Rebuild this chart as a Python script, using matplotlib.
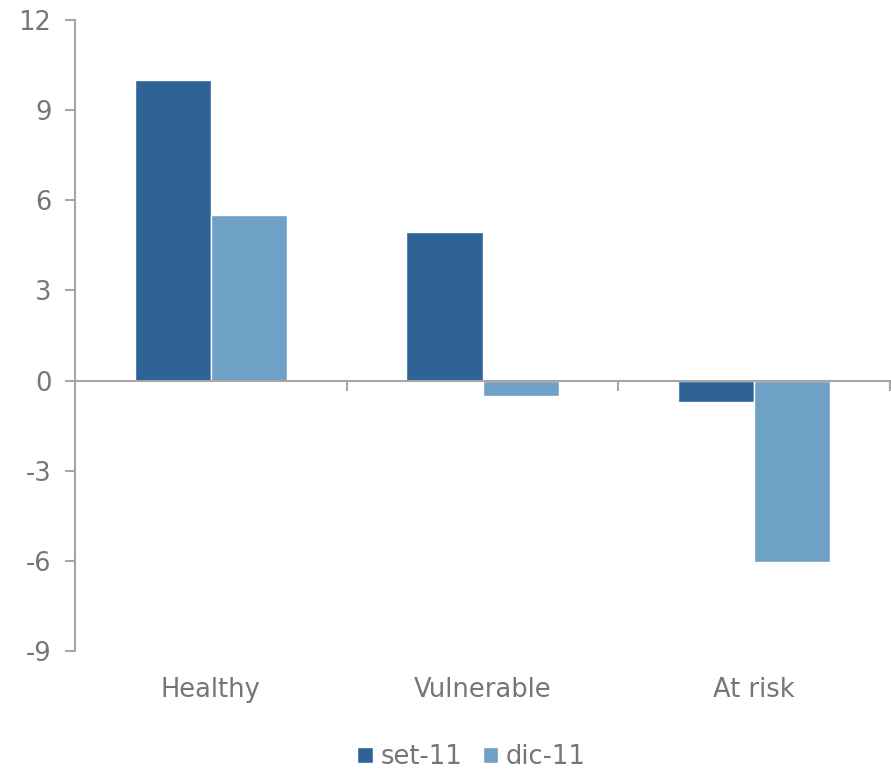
import numpy as np
import matplotlib
matplotlib.use('Agg')
from matplotlib import pyplot as plt
from matplotlib.transforms import blended_transform_factory

plt.rcParams['axes.unicode_minus'] = False

categories = ['Healthy', 'Vulnerable', 'At risk']
set11 = [10.0, 4.95, -0.7]
dic11 = [5.5, -0.5, -6.05]
series_names = ['set-11', 'dic-11']

dark = '#2f6296'
light = '#6fa1c6'
grey_txt = '#767676'
grey_ax = '#a6a6a6'

fig = plt.figure(figsize=(8.91, 7.73), dpi=100)
ax = fig.add_axes([75/891, 1-651/773, 815/891, 631/773])

x = np.arange(len(categories))
w = 0.28
ax.bar(x - w/2, set11, w, color=dark, edgecolor='white', linewidth=1, label=series_names[0])
ax.bar(x + w/2, dic11, w, color=light, edgecolor='white', linewidth=1, label=series_names[1])

ax.set_xlim(-0.5, 2.5)
ax.set_ylim(-9, 12)
ax.set_yticks(np.arange(-9, 13, 3))

for s in ['top', 'right']:
    ax.spines[s].set_visible(False)
ax.spines['left'].set_color(grey_ax)
ax.spines['left'].set_linewidth(1.5)
ax.spines['bottom'].set_position(('data', 0))
ax.spines['bottom'].set_color(grey_ax)
ax.spines['bottom'].set_linewidth(1.5)

# tick marks between categories on the zero line
ax.set_xticks([0.5, 1.5, 2.5])
ax.set_xticklabels([])
ax.tick_params(axis='x', direction='out', length=7, width=1.5, color=grey_ax)
ax.tick_params(axis='y', direction='out', length=7, width=1.5, color=grey_ax,
               labelsize=18.5, labelcolor=grey_txt, pad=10)

trans = blended_transform_factory(ax.transData, ax.transAxes)
for xi, name in zip(x, categories):
    ax.text(xi, -0.062, name, transform=trans, ha='center', va='center',
            fontsize=18.5, color=grey_txt)

handles, labels = ax.get_legend_handles_labels()
fig.legend(handles, labels, loc='center', bbox_to_anchor=(0.529, 1-757/773), ncol=2,
           frameon=False, fontsize=18.5, labelcolor=grey_txt, handlelength=0.6,
           handleheight=0.6, handletextpad=0.3, columnspacing=0.8)

fig.savefig('out.png', dpi=100)
